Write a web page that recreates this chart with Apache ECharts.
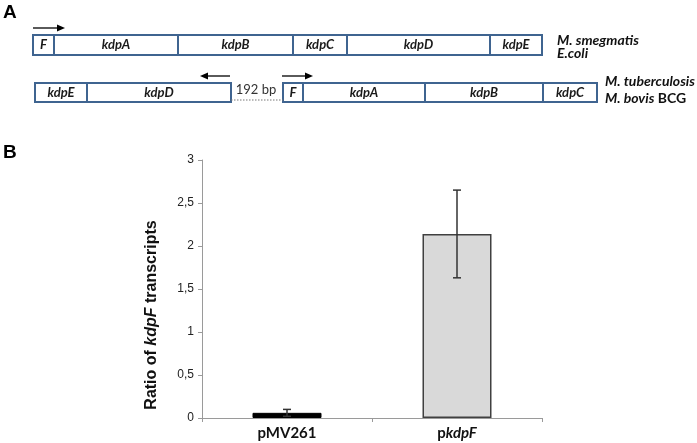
<!DOCTYPE html>
<html><head><meta charset="utf-8">
<script src="https://cdn.jsdelivr.net/npm/echarts@6/dist/echarts.min.js"></script>
<style>html,body{margin:0;padding:0;background:#fff}#c{width:697px;height:443px}</style>
</head><body><div id="c"></div>
<script>
// ---- Panel B data ----
const categories = ['pMV261', 'pkdpF'];
const ratioValues = [0.06, 2.14];
const errLow = [0.02, 1.63];
const errHigh = [0.10, 2.65];
const yTicks = [0, 0.5, 1, 1.5, 2, 2.5, 3];

// ---- Panel A data (gene map positions, diagram units) ----
const row1Genes = ['F', 'kdpA', 'kdpB', 'kdpC', 'kdpD', 'kdpE'];
const row1Start = [33, 54, 178, 293, 347, 490];
const row1End = [54, 178, 293, 347, 490, 542];
const row2Genes = ['kdpE', 'kdpD', 'F', 'kdpA', 'kdpB', 'kdpC'];
const row2Start = [35, 87, 283, 303, 425, 543];
const row2End = [87, 231, 303, 425, 543, 597];
const gapStart = [231];
const gapEnd = [283];
const gapLabel = ['192 bp'];
const arrowFrom = [[33, 0], [230, 1], [282, 1]];
const arrowTo = [[65, 0], [200, 1], [313, 1]];

const chart = echarts.init(document.getElementById('c'), null, {renderer: 'canvas'});

// layout for the two gene rows (pixel units of the hidden diagram axis)
const rowTop = [35, 83], rowBot = [55, 102], arrowY = [28, 76];

const geneData = [];
row1Genes.forEach((g, i) => geneData.push([row1Start[i], row1End[i], 0, g]));
row2Genes.forEach((g, i) => geneData.push([row2Start[i], row2End[i], 1, g]));
const arrowData = arrowFrom.map((f, i) => [f[0], arrowTo[i][0], f[1]]);
const gapData = gapStart.map((s, i) => [s, gapEnd[i], 1, gapLabel[i]]);

const geneFont = 'Lato, "Open Sans", sans-serif';

const option = {
  animation: false,
  backgroundColor: '#fff',
  grid: [
    {left: 202, top: 160, width: 340, height: 258},
    {left: 0, top: 0, width: 697, height: 110}
  ],
  xAxis: [
    {
      type: 'category', gridIndex: 0, data: categories,
      axisLine: {lineStyle: {color: '#9a9a9a', width: 1}},
      axisTick: {show: true, length: 4, lineStyle: {color: '#9a9a9a'}},
      axisLabel: {
        margin: 8,
        formatter: v => v === 'pkdpF' ? '{b|p}{i|kdpF}' : '{b|' + v + '}',
        rich: {
          b: {fontFamily: geneFont, fontWeight: 'bold', fontSize: 15, color: '#111'},
          i: {fontFamily: geneFont, fontWeight: 'bold', fontStyle: 'italic', fontSize: 15, color: '#111'}
        }
      }
    },
    {type: 'value', gridIndex: 1, min: 0, max: 697, show: false}
  ],
  yAxis: [
    {
      type: 'value', gridIndex: 0, min: 0, max: 3, interval: 0.5,
      splitLine: {show: false},
      axisLine: {show: true, lineStyle: {color: '#9a9a9a', width: 1}},
      axisTick: {show: true, length: 4, lineStyle: {color: '#9a9a9a'}},
      axisLabel: {
        margin: 8, fontFamily: 'Arial, "Liberation Sans", sans-serif', fontSize: 12, color: '#222',
        formatter: v => yTicks.includes(v) ? String(v).replace('.', ',') : ''
      }
    },
    {type: 'value', gridIndex: 1, min: 0, max: 110, inverse: true, show: false}
  ],
  series: [
    {
      type: 'bar', xAxisIndex: 0, yAxisIndex: 0, barWidth: 69,
      data: ratioValues.map((v, i) => ({
        value: v,
        itemStyle: i === 0
          ? {color: '#000', borderColor: '#000', borderWidth: 1}
          : {color: '#d9d9d9', borderColor: '#404040', borderWidth: 1.5}
      })),
      z: 2
    },
    {
      type: 'custom', xAxisIndex: 0, yAxisIndex: 0, z: 5,
      data: categories.map((c, i) => [i, errLow[i], errHigh[i]]),
      renderItem: (params, api) => {
        const lo = api.coord([api.value(0), api.value(1)]);
        const hi = api.coord([api.value(0), api.value(2)]);
        const w = 4;
        const st = {stroke: '#333', lineWidth: 1.5};
        return {type: 'group', children: [
          {type: 'line', shape: {x1: lo[0], y1: lo[1], x2: hi[0], y2: hi[1]}, style: st},
          {type: 'line', shape: {x1: hi[0] - w, y1: hi[1], x2: hi[0] + w, y2: hi[1]}, style: st},
          {type: 'line', shape: {x1: lo[0] - w, y1: lo[1], x2: lo[0] + w, y2: lo[1]}, style: st}
        ]};
      }
    },
    {
      type: 'custom', xAxisIndex: 1, yAxisIndex: 1, z: 3,
      data: geneData,
      renderItem: (params, api) => {
        const r = api.value(2);
        const p0 = api.coord([api.value(0), rowTop[r]]);
        const p1 = api.coord([api.value(1), rowBot[r]]);
        return {type: 'group', children: [
          {type: 'rect', shape: {x: p0[0], y: p0[1], width: p1[0] - p0[0], height: p1[1] - p0[1]},
           style: {fill: '#fff', stroke: '#3f6490', lineWidth: 2}},
          {type: 'text', style: {
            x: (p0[0] + p1[0]) / 2, y: (p0[1] + p1[1]) / 2, text: api.value(3),
            align: 'center', verticalAlign: 'middle',
            font: 'italic bold 13px ' + geneFont, fill: '#1a1a1a'}}
        ]};
      }
    },
    {
      type: 'custom', xAxisIndex: 1, yAxisIndex: 1, z: 3,
      data: gapData,
      renderItem: (params, api) => {
        const r = api.value(2);
        const p0 = api.coord([api.value(0), rowBot[r] - 2]);
        const p1 = api.coord([api.value(1), rowBot[r] - 2]);
        return {type: 'group', children: [
          {type: 'line', shape: {x1: p0[0], y1: p0[1], x2: p1[0], y2: p1[1]},
           style: {stroke: '#777', lineWidth: 1, lineDash: [1.5, 1.5]}},
          {type: 'text', style: {
            x: (p0[0] + p1[0]) / 2 - 1, y: (rowTop[r] + rowBot[r]) / 2 - 3, text: api.value(3),
            align: 'center', verticalAlign: 'middle',
            font: '13px ' + geneFont, fill: '#333'}}
        ]};
      }
    },
    {
      type: 'custom', xAxisIndex: 1, yAxisIndex: 1, z: 3,
      data: arrowData,
      renderItem: (params, api) => {
        const r = api.value(2);
        const a = api.coord([api.value(0), arrowY[r]]);
        const b = api.coord([api.value(1), arrowY[r]]);
        const dir = b[0] > a[0] ? 1 : -1;
        const hl = 8, hw = 3.5;
        return {type: 'group', children: [
          {type: 'line', shape: {x1: a[0], y1: a[1], x2: b[0] - dir * hl * 0.6, y2: b[1]},
           style: {stroke: '#000', lineWidth: 1.3}},
          {type: 'polygon', shape: {points: [[b[0], b[1]], [b[0] - dir * hl, b[1] - hw], [b[0] - dir * hl, b[1] + hw]]},
           style: {fill: '#000'}}
        ]};
      }
    }
  ],
  graphic: [
    {type: 'text', left: 3, top: 3, style: {text: 'A', font: 'bold 19px Arial, "Liberation Sans", sans-serif', fill: '#000'}},
    {type: 'text', left: 3, top: 143, style: {text: 'B', font: 'bold 19px Arial, "Liberation Sans", sans-serif', fill: '#000'}},
    {type: 'text', x: 557, y: 40, style: {text: 'M. smegmatis', font: 'italic bold 14px ' + geneFont, fill: '#111', verticalAlign: 'middle'}},
    {type: 'text', x: 557, y: 53, style: {text: 'E.coli', font: 'italic bold 14px ' + geneFont, fill: '#111', verticalAlign: 'middle'}},
    {type: 'text', x: 605, y: 81, style: {text: 'M. tuberculosis', font: 'italic bold 14px ' + geneFont, fill: '#111', verticalAlign: 'middle'}},
    {type: 'text', x: 605, y: 98, style: {
      text: '{i|M. bovis} {b|BCG}', verticalAlign: 'middle',
      rich: {
        i: {fontFamily: geneFont, fontStyle: 'italic', fontWeight: 'bold', fontSize: 14, fill: '#111', color: '#111'},
        b: {fontFamily: geneFont, fontWeight: 'bold', fontSize: 14, fill: '#111', color: '#111'}
      }}},
    {type: 'text', x: 152, y: 315, rotation: Math.PI / 2, style: {
      text: '{a|Ratio of }{i|kdpF}{a| transcripts}', align: 'center', verticalAlign: 'middle',
      rich: {
        a: {fontFamily: 'Arial, "Liberation Sans", sans-serif', fontWeight: 'bold', fontSize: 16, color: '#111', fill: '#111'},
        i: {fontFamily: 'Arial, "Liberation Sans", sans-serif', fontWeight: 'bold', fontStyle: 'italic', fontSize: 16, color: '#111', fill: '#111'}
      }}}
  ]
};
chart.setOption(option);
</script>
</body></html>
